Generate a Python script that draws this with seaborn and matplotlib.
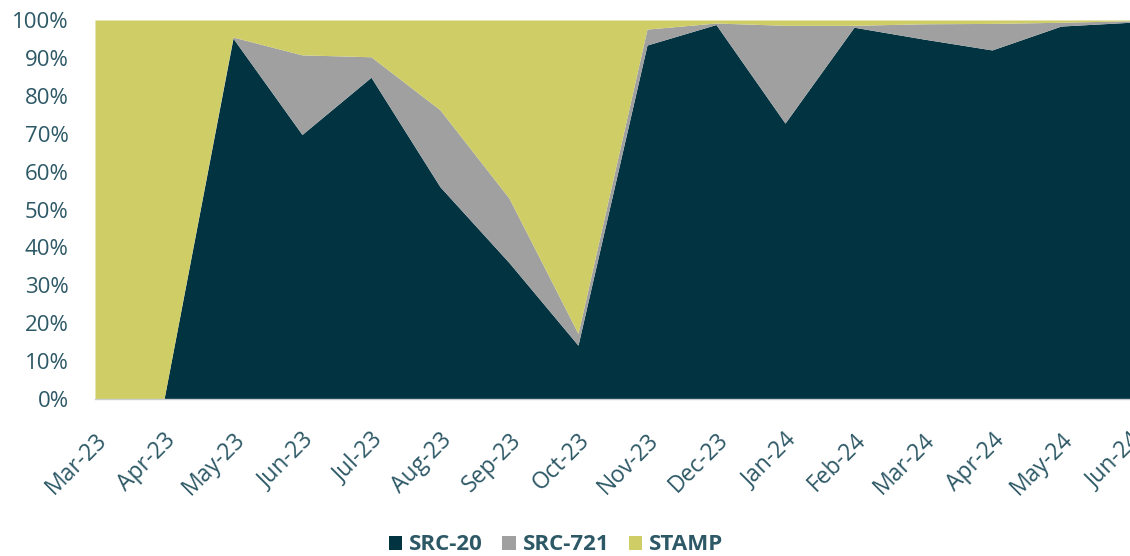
import matplotlib
matplotlib.use("Agg")
import matplotlib.pyplot as plt
import seaborn as sns
import numpy as np
from matplotlib.patches import Patch
from matplotlib.ticker import FuncFormatter, MultipleLocator

months = ["Mar-23", "Apr-23", "May-23", "Jun-23", "Jul-23", "Aug-23", "Sep-23", "Oct-23",
          "Nov-23", "Dec-23", "Jan-24", "Feb-24", "Mar-24", "Apr-24", "May-24", "Jun-24"]
src20 = [0.0, 0.0, 95.2, 69.8, 84.9, 56.0, 36.0, 14.2, 93.4, 98.8, 72.8, 98.1, 95.0, 92.1, 98.4, 99.4]
src721 = [0.0, 0.0, 0.3, 21.0, 5.4, 20.3, 17.0, 3.1, 4.2, 0.4, 25.8, 0.5, 4.0, 7.0, 1.0, 0.4]
stamp = [100 - a - b for a, b in zip(src20, src721)]

series_names = ["SRC-20", "SRC-721", "STAMP"]
colors = ["#013341", "#A0A0A0", "#CFCD66"]
label_color = "#2D5866"

sns.set_theme(style="white")
plt.rcParams['font.family'] = ['Open Sans', 'DejaVu Sans']

fig = plt.figure(figsize=(11.3, 5.56), dpi=100)
ax = fig.add_axes([95 / 1130, 1 - 399 / 556, (1130 - 95) / 1130, (399 - 20) / 556])

x = np.arange(len(months))
ax.stackplot(x, src20, src721, stamp, colors=colors, linewidth=0)

ax.set_xlim(0, len(months) - 1)
ax.set_ylim(0, 100)
ax.yaxis.set_major_locator(MultipleLocator(10))
ax.yaxis.set_major_formatter(FuncFormatter(lambda v, p: f"{int(round(v))}%"))
ax.set_xticks(x)
ax.set_xticklabels(months, rotation=45, ha="right", rotation_mode="anchor")
ax.tick_params(axis="x", labelsize=16.5, colors=label_color, length=0, pad=21)
ax.tick_params(axis="y", labelsize=16, colors=label_color, length=0, pad=19)
for lab in ax.get_xticklabels() + ax.get_yticklabels():
    lab.set_color(label_color)

for s in ["top", "right", "left"]:
    ax.spines[s].set_visible(False)
ax.spines["bottom"].set_color("#C8CDD0")
ax.spines["bottom"].set_linewidth(1.0)

handles = [Patch(facecolor=c, edgecolor="none", label=n) for c, n in zip(colors, series_names)]
leg = fig.legend(handles=handles, loc="center", bbox_to_anchor=(556 / 1130, 1 - 545 / 556),
                 ncol=3, frameon=False, handlelength=0.6, handleheight=0.6,
                 handletextpad=0.3, columnspacing=0.9,
                 prop={"weight": "bold", "size": 16})
for t in leg.get_texts():
    t.set_color(label_color)

fig.savefig("out.png", dpi=100)
